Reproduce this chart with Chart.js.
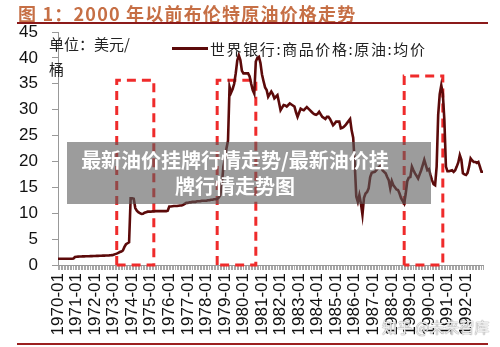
<!DOCTYPE html>
<html lang="zh">
<head>
    <meta charset="UTF-8">
    <title>2000年以前布伦特原油价格走势</title>
    <script src="https://cdn.jsdelivr.net/npm/chart.js@4.4.2/dist/chart.umd.min.js"></script>
    <style>
        html, body {
            margin: 0;
            padding: 0;
            background: #fff;
            width: 500px;
            height: 347px;
            overflow: hidden;
            font-family: "Noto Sans CJK SC", "Liberation Sans", sans-serif;
        }
        .wrap { position: relative; width: 500px; height: 347px; overflow: hidden; }
        canvas { position: absolute; left: 0; top: 0; }
        .title {
            position: absolute; left: 18px; top: 0px;
            font-size: 18px; font-weight: bold; color: #c66f45;
            letter-spacing: 1.2px; white-space: nowrap;
        }
        .rule-top { position: absolute; left: 17px; top: 22px; width: 471px; height: 2px; background: #8b1a1a; }
        .rule-bottom { position: absolute; left: 17px; top: 343px; width: 471px; height: 2px; background: #9b2020; }
        .unit { position: absolute; left: 49px; top: 31px; font-size: 15px; line-height: 25px; color: #222; }
        .legend { position: absolute; left: 172px; top: 38px; font-size: 15px; color: #222; white-space: nowrap; letter-spacing: 1.6px; }
        .legend i { display: inline-block; width: 36px; height: 3px; background: #5c0a0a; vertical-align: middle; margin-right: 2px; position: relative; top: -2px; }
        .mark {
            position: absolute; left: 67px; top: 142px; width: 336px; height: 62px;
            padding: 0 28px 0 0;
            background: rgba(90, 90, 90, 0.6); color: #fff;
            font-size: 20px; font-weight: bold; line-height: 26px;
            text-align: center; box-sizing: content-box;
        }
        .mark div:first-child { margin-top: 5px; }
        .zhihu {
            position: absolute; left: 382px; top: 316px; font-size: 15px;
            color: rgba(255,255,255,0.85); text-shadow: 0 0 1px #888, 0 0 1px #888;
        }
    </style>
</head>
<body>
<div class="wrap">
    <!-- canvas is a bit wider than the page so the rotated last-label padding falls outside -->
    <canvas id="oilChart" width="507" height="347"></canvas>
    <div class="title">图 1：2000 年以前布伦特原油价格走势</div>
    <div class="rule-top"></div>
    <div class="unit">单位：美元/<br>桶</div>
    <div class="legend"><i></i>世界银行:商品价格:原油:均价</div>
    <div class="mark"><div>最新油价挂牌行情走势/最新油价挂</div><div>牌行情走势图</div></div>
    <div class="zhihu">知乎 @未来智库</div>
    <div class="rule-bottom"></div>
</div>

<script>
    // --- Data (monthly, US$/bbl) ---
    const years = [];
    for (let y = 1970; y <= 1992; y++) years.push(y);

    const p1970 = [1.21, 1.21, 1.21, 1.21, 1.21, 1.21, 1.21, 1.21, 1.21, 1.21, 1.25, 1.55];
    const p1971 = [1.6, 1.62, 1.64, 1.65, 1.66, 1.67, 1.68, 1.69, 1.7, 1.71, 1.72, 1.73];
    const p1972 = [1.75, 1.76, 1.77, 1.78, 1.8, 1.81, 1.82, 1.83, 1.84, 1.85, 1.87, 1.9];
    const p1973 = [2.0, 2.1, 2.2, 2.35, 2.5, 2.6, 2.8, 3.5, 4.0, 4.2, 4.4, 12.9];
    const p1974 = [12.9, 12.8, 11.0, 10.5, 10.2, 10.0, 9.85, 9.9, 10.1, 10.2, 10.3, 10.3];
    const p1975 = [10.3, 10.35, 10.35, 10.4, 10.4, 10.4, 10.4, 10.4, 10.4, 10.4, 10.4, 10.5];
    const p1976 = [11.3, 11.3, 11.35, 11.4, 11.4, 11.4, 11.45, 11.5, 11.5, 11.6, 11.8, 12.0];
    const p1977 = [12.0, 12.1, 12.1, 12.2, 12.2, 12.2, 12.3, 12.3, 12.3, 12.4, 12.4, 12.4];
    const p1978 = [12.4, 12.5, 12.5, 12.6, 12.6, 12.7, 12.7, 12.8, 13.0, 13.5, 15.5, 19.0];
    const p1979 = [20.5, 22.5, 24.0, 34.4, 33.3, 34.0, 35.0, 37.0, 39.5, 40.5, 39.6, 37.5];
    const p1980 = [37.0, 37.0, 37.0, 37.0, 36.4, 35.0, 33.8, 33.1, 39.3, 40.0, 40.2, 39.0];
    const p1981 = [36.8, 35.5, 34.3, 33.8, 32.5, 33.0, 33.5, 33.0, 32.2, 32.5, 32.8, 31.4];
    const p1982 = [29.9, 30.4, 30.9, 30.8, 30.6, 30.9, 31.2, 31.0, 30.8, 30.6, 29.5, 28.6];
    const p1983 = [29.4, 30.2, 30.0, 29.9, 30.2, 30.5, 30.2, 29.9, 29.6, 29.3, 29.1, 29.0];
    const p1984 = [29.2, 29.6, 29.1, 28.6, 28.4, 28.2, 28.6, 28.6, 28.2, 27.6, 27.0, 27.3];
    const p1985 = [27.7, 27.7, 27.7, 26.4, 26.5, 26.7, 27.0, 27.4, 27.8, 28.2, 26.0, 24.6];
    const p1986 = [19.6, 13.2, 12.2, 13.5, 11.9, 9.7, 13.0, 13.8, 14.1, 14.8, 17.0, 17.8];
    const p1987 = [17.9, 18.0, 18.3, 18.7, 19.0, 19.3, 18.3, 18.0, 17.7, 17.0, 16.4, 14.8];
    const p1988 = [16.2, 15.4, 15.0, 14.6, 14.5, 13.8, 12.9, 12.4, 11.9, 13.8, 16.2, 16.9];
    const p1989 = [17.0, 19.0, 18.3, 17.7, 17.2, 16.7, 17.5, 18.3, 19.3, 20.3, 19.3, 18.3];
    const p1990 = [18.5, 17.4, 16.4, 15.6, 15.4, 19.0, 29.0, 33.0, 34.7, 33.1, 28.0, 19.0];
    const p1991 = [18.1, 18.1, 18.2, 18.3, 18.0, 18.3, 19.0, 19.8, 21.2, 20.3, 17.7, 17.5];
    const p1992 = [17.4, 17.8, 19.0, 20.6, 20.2, 19.9, 19.9, 19.7, 19.9, 19.0, 18.0, 18.0];

    const prices = [].concat(p1970, p1971, p1972, p1973, p1974, p1975, p1976, p1977,
        p1978, p1979, p1980, p1981, p1982, p1983, p1984, p1985, p1986, p1987,
        p1988, p1989, p1990, p1991, p1992);

    // month labels 1970-01 ... 1992-12
    const months = [];
    years.forEach(y => {
        for (let m = 1; m <= 12; m++) months.push(y + '-' + String(m).padStart(2, '0'));
    });

    // oil-shock boxes (red dashed)
    const shockStart = ['1973-03', '1978-08', '1988-09'];
    const shockEnd = ['1975-03', '1980-09', '1990-10'];
    const shockTop = [35.7, 35.7, 36.5];

    const yTicks = [0, 5, 10, 15, 20, 25, 30, 35, 40, 45];

    // --- Datasets ---
    const datasets = [{
        label: '世界银行:商品价格:原油:均价',
        data: prices,
        borderColor: '#5c0a0a',
        borderWidth: 2.6,
        pointRadius: 0,
        tension: 0,
        order: 0
    }];

    shockStart.forEach((s, i) => {
        const e = shockEnd[i], t = shockTop[i];
        datasets.push({
            label: 'shock' + i,
            data: [{x: s, y: 0}, {x: s, y: t}, {x: e, y: t}, {x: e, y: 0}, {x: s, y: 0}],
            borderColor: '#ef2b2b',
            borderWidth: 3,
            borderDash: [9, 6],
            pointRadius: 0,
            tension: 0,
            clip: false,
            order: 1
        });
    });

    new Chart(document.getElementById('oilChart'), {
        type: 'line',
        data: { labels: months, datasets: datasets },
        options: {
            responsive: false,
            animation: false,
            layout: { padding: { top: 32, right: 24, left: 0, bottom: 0 } },
            plugins: { legend: { display: false }, tooltip: { enabled: false } },
            scales: {
                x: {
                    type: 'category',
                    offset: false,
                    afterFit: s => { s.height = 82; },
                    border: { color: '#999', width: 1 },
                    grid: { drawOnChartArea: false, color: '#a8a8a8', tickLength: 5 },
                    ticks: {
                        autoSkip: false,
                        maxRotation: 90,
                        minRotation: 90,
                        padding: 3,
                        color: '#111',
                        font: { family: 'Liberation Sans', size: 17 },
                        callback: function (v, i) {
                            const l = months[i];
                            return l.endsWith('-01') ? l : '';
                        }
                    }
                },
                y: {
                    min: 0,
                    max: 45,
                    afterFit: s => { s.width = 58; },
                    afterBuildTicks: s => { s.ticks = yTicks.map(v => ({ value: v })); },
                    border: { color: '#999', width: 1 },
                    grid: { drawOnChartArea: false, color: '#999', tickLength: 6 },
                    ticks: {
                        padding: 14,
                        color: '#111',
                        font: { family: 'Liberation Sans', size: 17 }
                    }
                }
            }
        }
    });
</script>
</body>
</html>
